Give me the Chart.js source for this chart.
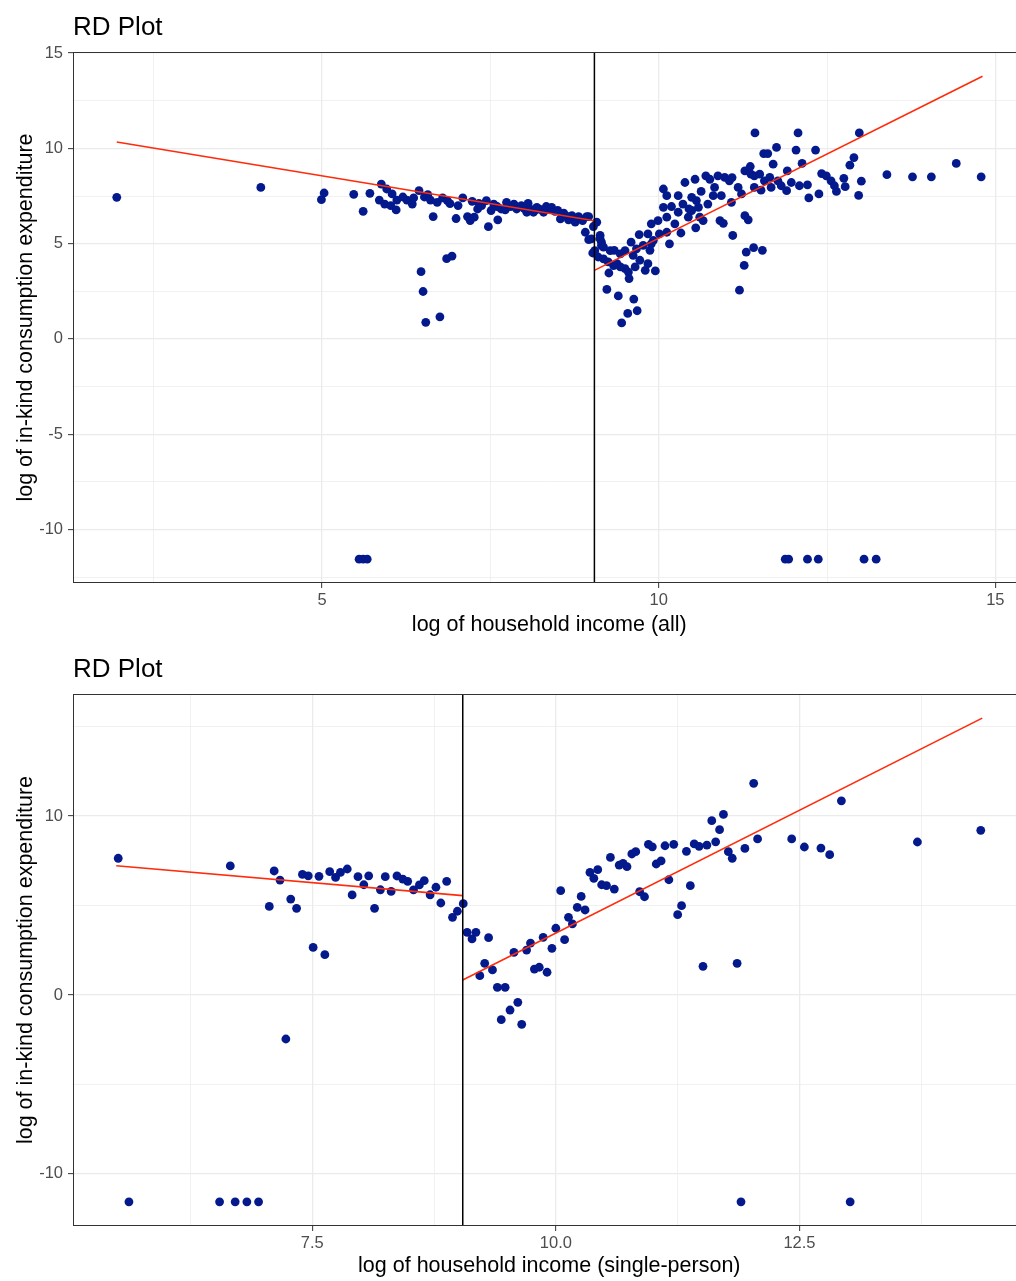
<!DOCTYPE html>
<html lang="en">
<head>
  <meta charset="UTF-8">
  <title>RD Plot</title>
  <script src="https://cdn.jsdelivr.net/npm/chart.js"></script>
  <style>
    html, body {
      margin: 0;
      padding: 0;
      background: #fff;
      overflow: hidden;
    }
    body {
      width: 1016px;
      height: 1281px;
      position: relative;
      font-family: "Liberation Sans", Arial, sans-serif;
    }
    .panel {
      position: absolute;
      left: 0;
      width: 1030px;
    }
    .panel h2 {
      position: absolute;
      left: 73px;
      margin: 0;
      font-size: 26px;
      line-height: 26px;
      font-weight: normal;
      color: #000;
    }
    canvas {
      position: absolute;
      left: 0;
      top: 0;
    }
  </style>
</head>
<body>
  <div class="panel" style="top:0;height:640px">
    <canvas id="allChart" width="1030" height="640"></canvas>
    <h2 style="top:13px">RD Plot</h2>
  </div>
  <div class="panel" style="top:640px;height:641px">
    <canvas id="singleChart" width="1030" height="641"></canvas>
    <h2 style="top:15px">RD Plot</h2>
  </div>
  <script>
    // cutoff of the regression discontinuity (log income)
    const cutoff = 9.045;

    // all households: [log income, log in-kind expenditure]
    const allPoints = [
      [1.95,7.43],[4.09,7.95],[4.99,7.31],[5.03,7.66],[5.47,7.59],[5.61,6.70],[5.71,7.64],[5.88,8.13],
      [5.85,7.29],[5.93,7.08],[5.96,7.87],[6.02,7.00],[6.04,7.61],[6.10,6.77],[6.11,7.29],[6.20,7.45],
      [6.26,7.29],[6.34,7.08],[6.36,7.40],[6.44,7.78],[6.47,3.53],[6.50,2.49],[6.54,0.87],[6.75,1.16],
      [6.85,4.21],[6.93,4.35],[6.52,7.45],[6.57,7.57],[6.61,7.29],[6.65,6.42],[6.71,7.17],[6.79,7.40],
      [6.86,7.26],[6.90,7.10],[6.99,6.32],[7.02,7.00],[7.09,7.40],[7.16,6.42],[7.20,6.21],[7.23,7.22],
      [7.26,6.39],[7.31,6.82],[7.33,7.12],[7.37,7.00],[7.44,7.26],[7.47,5.89],[7.51,6.74],[7.55,7.08],
      [7.60,6.95],[7.61,6.25],[7.66,6.82],[7.72,6.77],[7.74,7.17],[7.80,6.95],[7.85,7.08],[7.89,6.82],
      [7.96,7.00],[8.00,6.85],[8.04,6.65],[8.06,7.12],[8.10,6.80],[8.14,6.65],[8.17,6.77],[8.19,6.91],
      [8.24,6.80],[8.29,6.65],[8.33,6.95],[8.37,6.80],[8.41,6.91],[8.46,6.70],[8.50,6.75],[8.54,6.30],
      [8.59,6.60],[8.63,6.45],[8.66,6.25],[8.69,6.35],[8.71,6.47],[8.76,6.13],[8.81,6.42],[8.84,6.30],
      [8.87,6.21],[8.91,5.60],[8.93,6.42],[8.96,5.21],[8.96,6.42],[9.00,5.25],[9.02,4.51],[9.03,5.90],
      [9.05,4.63],[9.08,6.13],[9.10,4.30],[9.13,5.43],[9.13,5.25],[9.15,5.08],[9.15,4.90],[9.18,4.82],
      [9.18,4.20],[9.25,4.04],[9.26,3.46],[9.28,4.63],[9.33,3.85],[9.34,4.65],[9.38,3.95],[9.43,3.78],
      [9.43,4.46],[9.50,3.69],[9.50,4.63],[9.55,3.51],[9.56,3.17],[9.59,5.08],[9.62,4.39],[9.67,4.73],
      [9.65,3.78],[9.71,5.48],[9.72,4.13],[9.77,4.91],[9.80,3.60],[9.84,3.95],[9.84,5.51],[9.87,4.65],
      [9.89,4.99],[9.89,6.04],[9.92,5.17],[9.95,3.57],[9.99,6.21],[10.01,5.51],[10.07,7.87],[10.12,7.52],
      [10.07,6.91],[10.12,6.39],[10.12,5.60],[10.16,4.99],[10.19,6.95],[10.24,6.04],[10.29,7.52],[10.29,6.65],
      [10.33,5.56],[10.36,7.08],[10.39,8.21],[10.44,6.39],[10.45,6.82],[10.49,7.43],[10.49,6.74],[10.54,8.38],
      [10.55,5.83],[10.56,7.26],[10.59,6.91],[10.61,6.39],[10.63,7.74],[10.66,6.21],[10.70,8.56],[10.73,7.08],
      [10.76,8.38],[10.81,7.52],[10.83,7.95],[10.88,8.56],[10.91,6.21],[10.93,7.52],[10.96,6.07],[10.98,8.48],
      [11.05,8.30],[11.08,7.17],[11.09,8.47],[11.10,5.43],[11.18,7.95],[11.20,2.56],[11.23,7.61],[11.27,3.86],
      [11.28,6.47],[11.28,8.82],[11.30,4.56],[11.33,6.25],[11.36,9.05],[11.37,8.65],[11.41,4.79],[11.42,8.56],
      [11.42,7.95],[11.43,10.81],[11.50,8.65],[11.52,7.81],[11.54,4.65],[11.56,9.73],[11.57,8.30],[11.62,9.73],
      [11.65,8.48],[11.67,7.95],[11.70,9.17],[11.75,10.05],[11.77,8.30],[11.82,8.04],[11.90,7.78],[11.91,8.82],
      [11.97,8.21],[12.04,9.91],[12.07,10.81],[12.09,8.04],[12.13,9.21],[12.21,8.09],[12.23,7.40],[12.33,9.91],
      [12.38,7.61],[12.42,8.68],[12.49,8.56],[12.56,8.30],[12.61,8.04],[12.64,7.74],[12.75,8.43],[12.77,7.99],
      [12.84,9.12],[12.90,9.52],[12.97,7.53],[12.98,10.81],[13.01,8.28],[13.39,8.62],[13.77,8.51],[14.05,8.51],
      [14.42,9.21],[14.79,8.51],
      [9.23,2.60],[9.40,2.26],[9.63,2.09],[9.54,1.34],[9.68,1.48],[9.45,0.84],
      [5.55,-11.56],[5.61,-11.56],[5.67,-11.56],[11.88,-11.56],[11.93,-11.56],[12.21,-11.56],[12.37,-11.56],
      [13.05,-11.56],[13.23,-11.56]
    ];
    const allFitLeft = [[1.95,10.34],[9.045,6.20]];
    const allFitRight = [[9.045,3.60],[14.81,13.79]];

    // single-person households
    const singlePoints = [
      [5.51,7.64],[6.66,7.21],[7.11,6.93],[7.17,6.42],[7.06,4.95],[7.28,5.36],[7.34,4.84],[7.23,-2.46],
      [7.51,2.66],[7.63,2.25],[7.40,6.74],[7.46,6.66],[7.57,6.63],[7.68,6.89],[7.74,6.57],[7.79,6.85],
      [7.86,7.04],[7.91,5.59],[7.97,6.61],[8.03,6.16],[8.08,6.66],[8.14,4.84],[8.20,5.88],[8.25,6.61],
      [8.31,5.79],[8.37,6.65],[8.43,6.48],[8.48,6.35],[8.54,5.87],[8.60,6.15],[8.65,6.39],[8.71,5.60],
      [8.77,6.02],[8.82,5.14],[8.88,6.35],[8.94,4.34],[8.99,4.68],[9.05,5.10],
      [9.09,3.50],[9.14,3.13],[9.18,3.50],[9.31,3.20],[9.22,1.08],[9.27,1.77],[9.35,1.40],[9.40,0.43],
      [9.48,0.43],[9.44,-1.38],[9.53,-0.84],[9.61,-0.41],[9.65,-1.64],[9.57,2.38],[9.70,2.51],[9.74,2.90],
      [9.78,1.45],[9.83,1.55],[9.91,1.27],[9.87,3.22],[9.96,2.61],[10.00,3.73],[10.05,5.83],[10.09,3.09],
      [10.13,4.34],[10.17,3.97],[10.22,4.90],[10.26,5.51],[10.30,4.75],[10.35,6.85],[10.39,6.52],[10.43,7.00],
      [10.47,6.16],[10.52,6.11],[10.56,7.69],[10.60,5.92],[10.65,7.26],[10.69,7.36],[10.73,7.17],[10.78,7.88],
      [10.82,8.01],[10.86,5.77],[10.91,5.49],[10.95,8.42],[10.99,8.28],[11.03,7.32],[11.08,7.49],[11.12,8.34],
      [11.16,6.44],[11.21,8.42],[11.25,4.49],[11.29,4.99],[11.34,8.03],[11.38,6.11],[11.42,8.44],[11.47,8.31],
      [11.51,1.60],[11.55,8.38],[11.60,9.74],[11.64,8.56],[11.68,9.24],[11.72,10.09],[11.77,8.01],[11.81,7.64],
      [11.86,1.77],[11.94,8.19],[12.03,11.83],[12.07,8.72],[12.42,8.72],[12.55,8.27],[12.72,8.21],[12.81,7.84],
      [12.93,10.85],[13.71,8.55],[14.36,9.20],
      [5.62,-11.56],[6.55,-11.56],[6.71,-11.56],[6.83,-11.56],[6.95,-11.56],[11.90,-11.56],[13.02,-11.56]
    ];
    const singleFitLeft = [[5.49,7.22],[9.045,5.55]];
    const singleFitRight = [[9.045,0.84],[14.375,15.47]];

    // tick breaks and labels
    const allXMajor = [5, 10, 15];
    const allXLabels = ["5", "10", "15"];
    const allXMinor = [2.5, 7.5, 12.5];
    const allYMajor = [-10, -5, 0, 5, 10, 15];
    const allYLabels = ["-10", "-5", "0", "5", "10", "15"];
    const allYMinor = [-12.5, -7.5, -2.5, 2.5, 7.5, 12.5];

    const singleXMajor = [7.5, 10, 12.5];
    const singleXLabels = ["7.5", "10.0", "12.5"];
    const singleXMinor = [6.25, 8.75, 11.25, 13.75];
    const singleYMajor = [-10, 0, 10];
    const singleYLabels = ["-10", "0", "10"];
    const singleYMinor = [-5, 5, 15];

    const dotBlue = "#03198C";
    const lineRed = "#FF2B0A";

    Chart.defaults.font.family = '"Liberation Sans", Arial, sans-serif';

    const toXY = pts => pts.map(p => ({ x: p[0], y: p[1] }));

    // vline at the cutoff + panel border (theme_bw look)
    const panelFrame = {
      id: "panelFrame",
      afterDatasetsDraw(chart, args, opts) {
        const { ctx, chartArea: a } = chart;
        const px = chart.scales.x.getPixelForValue(opts.cutoff);
        ctx.save();
        ctx.strokeStyle = "#000";
        ctx.lineWidth = 1.5;
        ctx.beginPath();
        ctx.moveTo(px, a.top);
        ctx.lineTo(px, a.bottom);
        ctx.stroke();
        ctx.strokeStyle = "#333333";
        ctx.lineWidth = 1;
        ctx.strokeRect(a.left + 0.5, a.top + 0.5, a.width - 1, a.height - 1);
        ctx.restore();
      }
    };

    function axisOptions(o) {
      const isMajor = c => c.tick && o.major.includes(c.tick.value);
      return {
        type: "linear",
        min: o.min,
        max: o.max,
        afterBuildTicks: s => {
          s.ticks = o.major.concat(o.minor).sort((a, b) => a - b).map(v => ({ value: v }));
        },
        afterFit: s => {
          if (o.isX) s.height = o.size; else s.width = o.size;
        },
        ticks: {
          autoSkip: false,
          maxRotation: 0,
          padding: o.isX ? 3 : 5,
          color: "#4D4D4D",
          font: { size: 16.5 },
          callback: v => {
            const i = o.major.indexOf(v);
            return i < 0 ? "" : o.labels[i];
          }
        },
        grid: {
          color: "#EBEBEB",
          lineWidth: c => isMajor(c) ? 1.3 : 0.7,
          tickColor: c => isMajor(c) ? "#333333" : "rgba(0,0,0,0)",
          tickLength: 5,
          tickWidth: 1
        },
        border: { display: false },
        title: {
          display: true,
          text: o.title,
          color: "#000",
          font: { size: 21.5 },
          padding: o.isX ? { top: 0, bottom: 2 } : { top: 13, bottom: 0 }
        }
      };
    }

    function drawRdPlot(id, cfg) {
      new Chart(document.getElementById(id), {
        type: "scatter",
        data: {
          datasets: [
            { data: toXY(cfg.fitLeft), showLine: true, borderColor: lineRed, borderWidth: 1.6, pointRadius: 0, order: 0 },
            { data: toXY(cfg.fitRight), showLine: true, borderColor: lineRed, borderWidth: 1.6, pointRadius: 0, order: 0 },
            { data: toXY(cfg.points), backgroundColor: dotBlue, borderWidth: 0, pointRadius: 4.4, order: 1 }
          ]
        },
        options: {
          responsive: false,
          animation: false,
          devicePixelRatio: 1,
          layout: { padding: { top: cfg.padTop, right: 3, left: 0, bottom: 0 } },
          plugins: {
            legend: { display: false },
            tooltip: { enabled: false },
            panelFrame: { cutoff: cutoff }
          },
          scales: {
            x: axisOptions(cfg.x),
            y: axisOptions(cfg.y)
          }
        },
        plugins: [panelFrame]
      });
    }

    drawRdPlot("allChart", {
      points: allPoints,
      fitLeft: allFitLeft,
      fitRight: allFitRight,
      padTop: 52,
      x: { isX: true, min: 1.30, max: 15.45, size: 57, major: allXMajor, minor: allXMinor, labels: allXLabels,
           title: "log of household income (all)" },
      y: { isX: false, min: -12.81, max: 15.06, size: 73, major: allYMajor, minor: allYMinor, labels: allYLabels,
           title: "log of in-kind consumption expenditure" }
    });

    drawRdPlot("singleChart", {
      points: singlePoints,
      fitLeft: singleFitLeft,
      fitRight: singleFitRight,
      padTop: 54,
      x: { isX: true, min: 5.046, max: 14.82, size: 55, major: singleXMajor, minor: singleXMinor, labels: singleXLabels,
           title: "log of household income (single-person)" },
      y: { isX: false, min: -12.91, max: 16.82, size: 73, major: singleYMajor, minor: singleYMinor, labels: singleYLabels,
           title: "log of in-kind consumption expenditure" }
    });
  </script>
</body>
</html>
